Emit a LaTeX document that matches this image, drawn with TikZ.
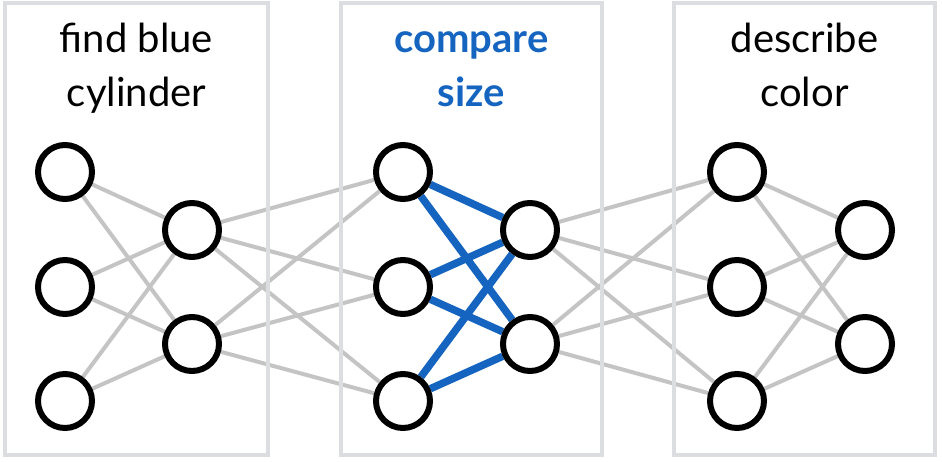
\documentclass[tikz,border=0pt]{standalone}
\usepackage{fontspec}
\setmainfont{Lato}
\usetikzlibrary{backgrounds}
\definecolor{boxgray}{HTML}{DCDDE0}
\definecolor{edgegray}{HTML}{C4C4C4}
\definecolor{hiblue}{HTML}{1565C0}
\tikzset{
  neuron/.style={circle, draw=black, fill=white, line width=6pt, minimum size=54pt, inner sep=0pt},
  panel/.style={draw=boxgray, line width=4pt},
  plain/.style={draw=edgegray, line width=4pt},
  strong/.style={draw=hiblue, line width=7.5pt},
  title/.style={anchor=base, font=\fontsize{40}{40}\selectfont, text=black, inner sep=0pt},
  hititle/.style={title, font=\fontsize{40}{40}\selectfont\bfseries, text=hiblue}
}
\begin{document}
\begin{tikzpicture}[x=1pt,y=-1pt]
\useasboundingbox (0,0) rectangle (942,462);
% panels
\node[panel, minimum width=263pt, minimum height=452pt, inner sep=0pt] (p1) at (136.5,229) {};
\node[panel, minimum width=261pt, minimum height=452pt, inner sep=0pt] (p2) at (471.5,229) {};
\node[panel, minimum width=261pt, minimum height=452pt, inner sep=0pt] (p3) at (804.5,229) {};
% titles
\node[title] (t1a) at (136.5,53) {find blue};
\node[title] (t1b) at (136.5,107) {cylinder};
\node[hititle] (t2a) at (471.5,53) {compare};
\node[hititle] (t2b) at (471.5,107) {size};
\node[title] (t3a) at (804.5,53) {describe};
\node[title] (t3b) at (804.5,107) {color};
% neurons
\foreach \b/\lx/\rx in {1/65/192, 2/403/530, 3/737/865}{
  \node[neuron] (a\b1) at (\lx,172) {};
  \node[neuron] (a\b2) at (\lx,287) {};
  \node[neuron] (a\b3) at (\lx,401) {};
  \node[neuron] (b\b1) at (\rx,230) {};
  \node[neuron] (b\b2) at (\rx,344) {};
}
\begin{scope}[on background layer]
  \foreach \i in {1,2,3}{
    \foreach \j in {1,2}{
      \draw[plain] (a1\i) -- (b1\j);
      \draw[plain] (a3\i) -- (b3\j);
      \draw[plain] (b1\j) -- (a2\i);
      \draw[plain] (b2\j) -- (a3\i);
      \draw[strong] (a2\i) -- (b2\j);
    }
  }
\end{scope}
\end{tikzpicture}
\end{document}
